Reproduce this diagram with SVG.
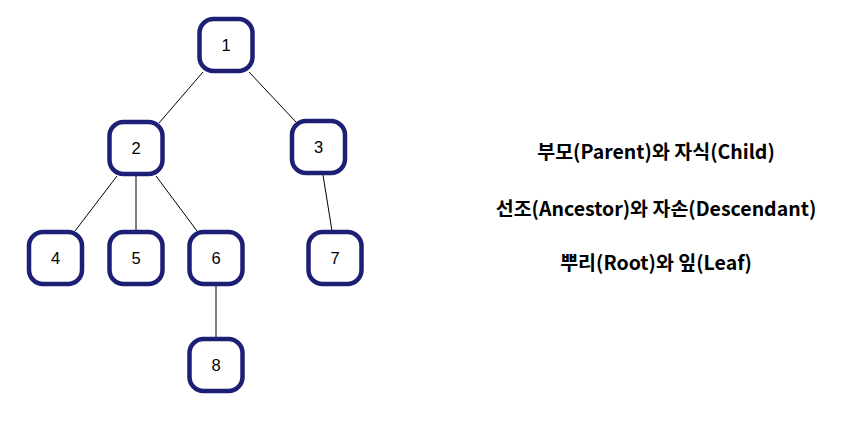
<svg xmlns="http://www.w3.org/2000/svg" width="862" height="427" viewBox="0 0 862 427">
<style>
.node rect{fill:#fff;stroke:#1c1f73;stroke-width:4.5}
.node text{font-family:"Liberation Sans",Arial,sans-serif;font-size:16.5px;fill:#000;text-anchor:middle;dominant-baseline:central}
.edges line{stroke:#000;stroke-width:1}
.label{font-family:"Noto Sans CJK KR","Noto Sans",sans-serif;font-weight:bold;font-size:19.5px;fill:#000;text-anchor:middle}
</style>
<rect width="862" height="427" fill="#fff"/>
<g id="edges" class="edges">
<line x1="203" y1="72" x2="159" y2="123"/>
<line x1="249" y1="72" x2="296" y2="122"/>
<line x1="117" y1="176" x2="75" y2="231"/>
<line x1="136" y1="176" x2="136" y2="231"/>
<line x1="156" y1="176" x2="197" y2="231"/>
<line x1="323" y1="175" x2="332" y2="231"/>
<line x1="216" y1="286" x2="216" y2="338"/>
</g>
<g id="n1" class="node"><rect x="199.5" y="19" width="53" height="52" rx="14"/><text x="226" y="45">1</text></g>
<g id="n2" class="node"><rect x="109.5" y="122" width="53" height="52" rx="14"/><text x="136" y="148">2</text></g>
<g id="n3" class="node"><rect x="292" y="121" width="53" height="52" rx="14"/><text x="318.5" y="147">3</text></g>
<g id="n4" class="node"><rect x="29" y="232" width="53" height="52" rx="14"/><text x="55.5" y="258">4</text></g>
<g id="n5" class="node"><rect x="109.5" y="232" width="53" height="52" rx="14"/><text x="136" y="258">5</text></g>
<g id="n6" class="node"><rect x="189.5" y="232" width="53" height="52" rx="14"/><text x="216" y="258">6</text></g>
<g id="n7" class="node"><rect x="308.5" y="232" width="53" height="52" rx="14"/><text x="335" y="258">7</text></g>
<g id="n8" class="node"><rect x="189.5" y="339" width="53" height="52" rx="14"/><text x="216" y="365">8</text></g>
<g id="labels">
<text class="label" x="656" y="159">부모(Parent)와 자식(Child)</text>
<text class="label" x="656" y="216">선조(Ancestor)와 자손(Descendant)</text>
<text class="label" x="656" y="270">뿌리(Root)와 잎(Leaf)</text>
</g>
</svg>
